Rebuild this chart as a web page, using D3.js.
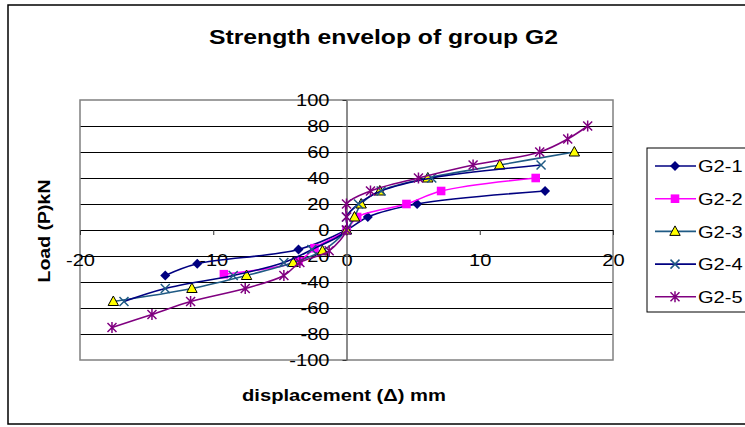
<!DOCTYPE html>
<html>
<head>
<meta charset="utf-8">
<script src="https://cdn.jsdelivr.net/npm/d3@7"></script>
<style>
  body { margin: 0; background: #fff; }
  text { font-family: "Liberation Sans", Arial, sans-serif; }
</style>
</head>
<body>
<script>
// Data (displacement mm, load kN)
const seriesNames = ['G2-1', 'G2-2', 'G2-3', 'G2-4', 'G2-5'];

const g21X = [-13.6, -11.2, -3.6, 0, 1.6, 5.3, 14.9];
const g21Y = [-35, -26, -15, 0, 10, 20, 30];

const g22X = [-9.2, -3.6, -2.4, 0, 0.8, 4.5, 7.1, 14.2];
const g22Y = [-34, -24, -14, 0, 10, 20, 30, 40];

const g23X = [-17.5, -11.6, -7.5, -4.0, -1.8, 0, 0.6, 1.1, 2.5, 6.1, 11.5, 17.1];
const g23Y = [-55, -45, -35, -25, -16, 0, 10, 20, 30, 40, 50, 60];

const g24X = [-16.7, -13.6, -8.5, -4.7, -2.6, 0, 0, 0.9, 2.6, 6.4, 14.6];
const g24Y = [-55, -45, -35, -25, -15, 0, 10, 20, 30, 40, 50];

const g25X = [-17.6, -14.6, -11.7, -7.6, -4.7, -3.5, -1.3, 0, 0, 0, 1.8, 5.4, 9.5, 14.5, 16.6, 18.1];
const g25Y = [-75, -65, -55, -45, -35, -25, -16, 0, 10, 20, 30, 40, 50, 60, 70, 80];

const xTicks = [-20, -10, 0, 10, 20];
const yTicks = [-100, -80, -60, -40, -20, 0, 20, 40, 60, 80, 100];

// styles per series
const lineColors = ['#000080', '#ff00ff', '#1f5a84', '#000080', '#800080'];
const markerKinds = ['diamond', 'square', 'triangle', 'cross', 'star'];

const W = 745, H = 427;
const stretch = 1.18; // the reference text is drawn wider than normal

const svg = d3.select('body').append('svg')
  .attr('width', W)
  .attr('height', H);

// chart frame
svg.append('rect')
  .attr('x', 8).attr('y', 5)
  .attr('width', 780).attr('height', 419)
  .attr('fill', '#fff')
  .attr('stroke', '#000')
  .attr('stroke-width', 1.5);

const plot = { left: 80, right: 613, top: 100, bottom: 360 };

const x = d3.scaleLinear().domain([-20, 20]).range([plot.left, plot.right]);
const y = d3.scaleLinear().domain([-100, 100]).range([plot.bottom, plot.top]);

// horizontal gridlines
svg.append('g')
  .selectAll('line')
  .data(yTicks.filter(v => v > -100 && v < 100))
  .join('line')
  .attr('x1', plot.left).attr('x2', plot.right)
  .attr('y1', d => y(d)).attr('y2', d => y(d))
  .attr('stroke', '#000')
  .attr('stroke-width', 1)
  .attr('shape-rendering', 'crispEdges');

// plot area border
svg.append('rect')
  .attr('x', plot.left).attr('y', plot.top)
  .attr('width', plot.right - plot.left)
  .attr('height', plot.bottom - plot.top)
  .attr('fill', 'none')
  .attr('stroke', '#808080')
  .attr('stroke-width', 1.5);

// x axis through y = 0
const xAxis = d3.axisBottom(x)
  .tickValues(xTicks)
  .tickSize(5)
  .tickSizeOuter(0)
  .tickFormat(d => String(d));

const gx = svg.append('g')
  .attr('transform', `translate(0, ${y(0)})`)
  .call(xAxis);
gx.select('.domain').attr('stroke', '#000').attr('shape-rendering', 'crispEdges');
gx.selectAll('.tick line').attr('stroke', '#333');
gx.selectAll('.tick text')
  .attr('y', 30)
  .attr('dy', '0.35em')
  .attr('font-size', 17)
  .attr('fill', '#000');

// y axis through x = 0
const yAxis = d3.axisLeft(y)
  .tickValues(yTicks)
  .tickSize(4)
  .tickSizeOuter(0)
  .tickPadding(13)
  .tickFormat(d => String(d));

const gy = svg.append('g')
  .attr('transform', `translate(${x(0)}, 0)`)
  .call(yAxis);
gy.select('.domain').attr('stroke', '#666').attr('stroke-width', 1.5);
gy.selectAll('.tick line').attr('stroke', '#333');
gy.selectAll('.tick text')
  .attr('font-size', 17)
  .attr('fill', '#000');

// marker shapes
function markerPath(kind) {
  if (kind === 'diamond') return 'M0,-5L5,0L0,5L-5,0Z';
  if (kind === 'square') return 'M-4.3,-4.3H4.3V4.3H-4.3Z';
  if (kind === 'triangle') return 'M0,-5.5L5.2,4L-5.2,4Z';
  if (kind === 'cross') return 'M-4.5,-4.5L4.5,4.5M-4.5,4.5L4.5,-4.5';
  return 'M-4.5,-4.5L4.5,4.5M-4.5,4.5L4.5,-4.5M0,-5.5V5.5';
}

function drawMarker(sel, i) {
  const kind = markerKinds[i];
  const p = sel.append('path').attr('d', markerPath(kind));
  if (kind === 'triangle') {
    p.attr('fill', '#ffff00').attr('stroke', '#000').attr('stroke-width', 1);
  } else if (kind === 'cross') {
    p.attr('fill', 'none').attr('stroke', '#1f5a84').attr('stroke-width', 1.5);
  } else if (kind === 'star') {
    p.attr('fill', 'none').attr('stroke', '#800080').attr('stroke-width', 1.5);
  } else {
    p.attr('fill', lineColors[i]).attr('stroke', 'none');
  }
}

// series
const allX = [g21X, g22X, g23X, g24X, g25X];
const allY = [g21Y, g22Y, g23Y, g24Y, g25Y];
const series = seriesNames.map((name, i) => ({
  name,
  points: allX[i].map((v, j) => [v, allY[i][j]])
}));

const line = d3.line()
  .x(d => x(d[0]))
  .y(d => y(d[1]))
  .curve(d3.curveCatmullRom.alpha(0.5));

series.forEach((s, i) => {
  const g = svg.append('g');
  g.append('path')
    .attr('d', line(s.points))
    .attr('fill', 'none')
    .attr('stroke', lineColors[i])
    .attr('stroke-width', 1.6);
  g.selectAll('g.pt')
    .data(s.points)
    .join('g')
    .attr('class', 'pt')
    .attr('transform', d => `translate(${x(d[0])}, ${y(d[1])})`)
    .each(function () { drawMarker(d3.select(this), i); });
});

// legend
const legend = svg.append('g');
legend.append('rect')
  .attr('x', 647).attr('y', 148)
  .attr('width', 120).attr('height', 164)
  .attr('fill', '#fff')
  .attr('stroke', '#000')
  .attr('stroke-width', 1);

seriesNames.forEach((name, i) => {
  const cy = 166 + i * 32.7;
  const item = legend.append('g');
  item.append('line')
    .attr('x1', 655).attr('x2', 696)
    .attr('y1', cy).attr('y2', cy)
    .attr('stroke', lineColors[i])
    .attr('stroke-width', 1.6);
  const m = item.append('g').attr('transform', `translate(675, ${cy})`);
  drawMarker(m, i);
  item.append('text')
    .attr('x', 698)
    .attr('y', cy)
    .attr('dy', '0.36em')
    .attr('font-size', 17)
    .attr('class', 'stretch')
    .text(name);
});

// widen tick and legend text like the reference
gx.selectAll('.tick text').classed('stretch', true);
gy.selectAll('.tick text').classed('stretch', true);
svg.selectAll('text.stretch').each(function () {
  const w = this.getComputedTextLength();
  d3.select(this)
    .attr('textLength', w * stretch)
    .attr('lengthAdjust', 'spacingAndGlyphs');
});

// titles
svg.append('text')
  .attr('x', 383.5)
  .attr('y', 44)
  .attr('text-anchor', 'middle')
  .attr('font-size', 21)
  .attr('font-weight', 'bold')
  .attr('textLength', 349)
  .attr('lengthAdjust', 'spacingAndGlyphs')
  .text('Strength envelop of group G2');

svg.append('text')
  .attr('x', 344)
  .attr('y', 401)
  .attr('text-anchor', 'middle')
  .attr('font-size', 17)
  .attr('font-weight', 'bold')
  .attr('textLength', 204)
  .attr('lengthAdjust', 'spacingAndGlyphs')
  .text('displacement (Δ) mm');

svg.append('text')
  .attr('transform', 'translate(50, 231) rotate(-90)')
  .attr('text-anchor', 'middle')
  .attr('font-size', 17)
  .attr('font-weight', 'bold')
  .attr('textLength', 103)
  .attr('lengthAdjust', 'spacingAndGlyphs')
  .text('Load (P)kN');
</script>
</body>
</html>
